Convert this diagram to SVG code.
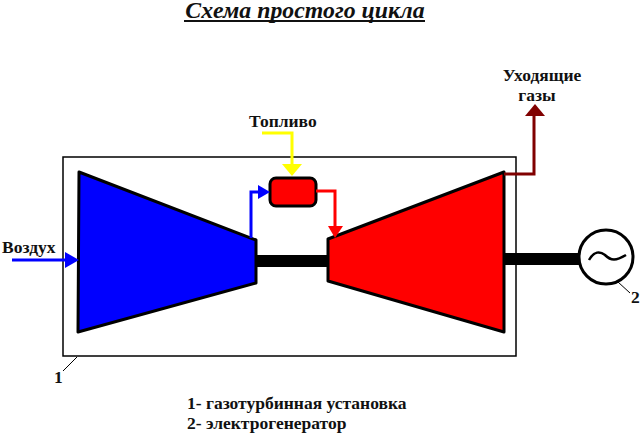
<svg xmlns="http://www.w3.org/2000/svg" width="644" height="435" viewBox="0 0 644 435">
<style>
text{font-family:"Liberation Serif","Times New Roman",serif;font-weight:bold;fill:#111;font-size:17.5px}
.c{fill:none;stroke-width:3}
.m{stroke:#000;stroke-width:3;stroke-linejoin:round}
</style>
<rect width="644" height="435" fill="#fff"/>
<g id="title"><text x="305" y="18" text-anchor="middle" style="font-size:23.8px;font-style:italic">Схема простого цикла</text><rect x="184" y="20" width="241" height="2" fill="#111"/></g>
<g id="frame"><rect x="63" y="157" width="453" height="199" fill="none" stroke="#000" stroke-width="1.5"/></g>
<g id="shafts"><rect x="256" y="255" width="73" height="12" fill="#000"/><rect x="504" y="253" width="78" height="12" fill="#000"/></g>
<g id="compressor"><polygon class="m" points="79,172 256,240 256,283 78,332" fill="#0000ff"/></g>
<g id="turbine"><polygon class="m" points="504,172 504,332 328,281 328,239" fill="#ff0000"/></g>
<g id="combustor"><rect x="270" y="178" width="46" height="28" rx="6" fill="#ff0000" stroke="#000" stroke-width="3"/></g>
<g id="generator"><circle cx="606" cy="257" r="27" fill="#fff" stroke="#000" stroke-width="3"/><path d="M589,260C594,251 600,251 605,255C611,261 616,261 626,255" fill="none" stroke="#000" stroke-width="2.5"/></g>
<g id="connectors">
<path class="c" stroke="#0000ff" d="M12,260H68"/><polygon points="65,252 79,260 65,268" fill="#0000ff"/>
<path class="c" stroke="#0000ff" d="M251,238V192H260"/><polygon points="258,185 270,192 258,199" fill="#0000ff"/>
<path class="c" stroke="#ffff00" stroke-width="3" d="M262,133H292V168"/><polygon points="282,164 302,164 292,176" fill="#ffff00"/>
<path class="c" stroke="#ff0000" d="M316,191H335V228"/><polygon points="328,226 343,226 335,238" fill="#ff0000"/>
<path class="c" stroke="#800000" d="M504,174H534V114"/><polygon points="525,116 545,116 535,104" fill="#800000"/>
<path fill="none" stroke="#000" stroke-width="1" d="M77,357L63,371M618,282L630,293"/>
</g>
<g id="labels">
<text x="2" y="253">Воздух</text>
<text x="249" y="127">Топливо</text>
<text x="542" y="81" text-anchor="middle">Уходящие</text>
<text x="537" y="101" text-anchor="middle">газы</text>
<text x="54" y="383">1</text>
<text x="631" y="303">2</text>
<text x="187" y="409">1- газотурбинная установка</text>
<text x="187" y="429">2- электрогенератор</text>
</g>
</svg>
